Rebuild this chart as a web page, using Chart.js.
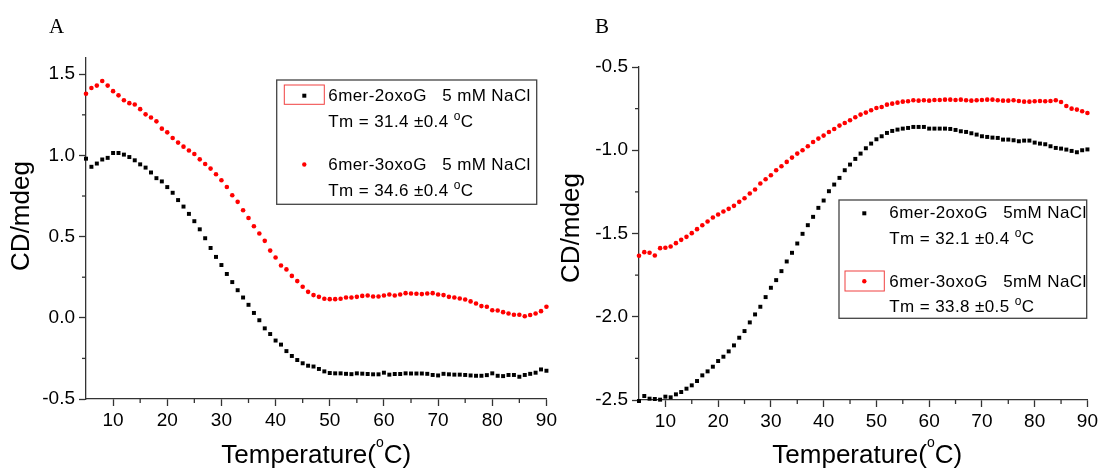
<!DOCTYPE html>
<html>
<head>
<meta charset="utf-8">
<script src="https://cdn.jsdelivr.net/npm/chart.js@4.4.1/dist/chart.umd.min.js"></script>
<style>
  html, body { margin: 0; padding: 0; background: #fff; }
  body { width: 1101px; height: 468px; position: relative; overflow: hidden; }
  .panel { position: absolute; top: 0; height: 468px; }
  #panelA { left: 0; width: 560px; }
  #panelB { left: 550px; width: 551px; }
</style>
</head>
<body>
<div class="panel" id="panelA"><canvas id="chartA"></canvas></div>
<div class="panel" id="panelB"><canvas id="chartB"></canvas></div>
<script>
// temperatures (deg C), one reading per degree
const temps = [5,6,7,8,9,10,11,12,13,14,15,16,17,18,19,20,21,22,23,24,25,26,27,28,29,30,
  31,32,33,34,35,36,37,38,39,40,41,42,43,44,45,46,47,48,49,50,51,52,53,54,55,56,57,58,59,60,
  61,62,63,64,65,66,67,68,69,70,71,72,73,74,75,76,77,78,79,80,81,82,83,84,85,86,87,88,89,90];

// panel A: 5 mM NaCl
const blackA = [0.98,0.93,0.95,0.975,0.985,1.015,1.015,1.005,0.99,0.97,
  0.945,0.925,0.895,0.86,0.84,0.805,0.77,0.725,0.685,0.64,
  0.595,0.545,0.49,0.43,0.375,0.325,0.27,0.22,0.17,0.125,
  0.08,0.03,-0.015,-0.065,-0.10,-0.14,-0.165,-0.205,-0.235,-0.26,
  -0.28,-0.295,-0.30,-0.315,-0.33,-0.34,-0.342,-0.342,-0.345,-0.347,
  -0.342,-0.344,-0.346,-0.348,-0.348,-0.338,-0.35,-0.346,-0.346,-0.342,
  -0.343,-0.343,-0.343,-0.345,-0.352,-0.355,-0.345,-0.348,-0.35,-0.35,
  -0.352,-0.355,-0.357,-0.357,-0.353,-0.342,-0.357,-0.359,-0.352,-0.352,
  -0.363,-0.352,-0.345,-0.338,-0.318,-0.326];
const redA = [1.38,1.415,1.43,1.458,1.43,1.396,1.37,1.34,1.322,1.314,
  1.285,1.253,1.234,1.21,1.165,1.142,1.107,1.079,1.054,1.03,
  1.009,0.976,0.947,0.919,0.884,0.847,0.806,0.755,0.714,0.662,
  0.615,0.564,0.519,0.474,0.414,0.371,0.322,0.298,0.258,0.226,
  0.191,0.16,0.14,0.129,0.117,0.115,0.115,0.117,0.125,0.125,
  0.129,0.135,0.137,0.131,0.131,0.137,0.144,0.137,0.144,0.152,
  0.15,0.148,0.146,0.15,0.152,0.144,0.14,0.129,0.125,0.119,
  0.113,0.101,0.088,0.072,0.068,0.047,0.045,0.035,0.027,0.019,
  0.019,0.010,0.017,0.027,0.041,0.068];

// panel B: 5mM NaCl
const blackB = [-2.506,-2.476,-2.492,-2.494,-2.498,-2.48,-2.484,-2.466,-2.452,-2.432,
  -2.412,-2.386,-2.352,-2.328,-2.3,-2.266,-2.24,-2.208,-2.172,-2.126,
  -2.086,-2.034,-1.986,-1.94,-1.882,-1.826,-1.78,-1.726,-1.668,-1.616,
  -1.56,-1.502,-1.45,-1.4,-1.346,-1.302,-1.246,-1.206,-1.166,-1.12,
  -1.086,-1.052,-1.02,-0.988,-0.96,-0.934,-0.916,-0.896,-0.884,-0.876,
  -0.87,-0.866,-0.86,-0.86,-0.86,-0.87,-0.87,-0.87,-0.87,-0.872,
  -0.878,-0.886,-0.89,-0.898,-0.906,-0.916,-0.92,-0.924,-0.926,-0.936,
  -0.936,-0.94,-0.946,-0.942,-0.942,-0.954,-0.96,-0.964,-0.976,-0.986,
  -0.99,-0.996,-1.004,-1.012,-1.0,-0.995];
const redB = [-1.634,-1.612,-1.616,-1.632,-1.588,-1.586,-1.578,-1.558,-1.538,-1.52,
  -1.498,-1.474,-1.45,-1.428,-1.404,-1.386,-1.368,-1.352,-1.334,-1.31,
  -1.288,-1.26,-1.236,-1.2,-1.174,-1.15,-1.12,-1.096,-1.07,-1.044,
  -1.02,-1.0,-0.976,-0.95,-0.93,-0.912,-0.89,-0.872,-0.852,-0.836,
  -0.82,-0.802,-0.786,-0.774,-0.76,-0.746,-0.74,-0.726,-0.72,-0.714,
  -0.708,-0.706,-0.7,-0.702,-0.7,-0.702,-0.698,-0.698,-0.696,-0.696,
  -0.698,-0.696,-0.7,-0.702,-0.7,-0.698,-0.696,-0.696,-0.7,-0.702,
  -0.702,-0.7,-0.704,-0.708,-0.708,-0.706,-0.704,-0.706,-0.704,-0.7,
  -0.71,-0.734,-0.75,-0.756,-0.766,-0.776];

// ticks
const xTicks = [10,20,30,40,50,60,70,80,90];
const xMinor = [15,25,35,45,55,65,75,85];
const yTicksA = [-0.5,0,0.5,1,1.5];
const yMinorA = [-0.25,0.25,0.75,1.25];
const yTicksB = [-2.5,-2,-1.5,-1,-0.5];
const yMinorB = [-2.25,-1.75,-1.25,-0.75];

// legend text
const namesA = ["6mer-2oxoG   5 mM NaCl", "6mer-3oxoG   5 mM NaCl"];
const tmA = ["31.4", "34.6"];
const errA = ["0.4", "0.4"];
const namesB = ["6mer-2oxoG   5mM NaCl", "6mer-3oxoG   5mM NaCl"];
const tmB = ["32.1", "33.8"];
const errB = ["0.4", "0.5"];

const FONT = '"Liberation Sans", Arial, sans-serif';
const AXIS = '#333';

function pts(ys) {
  return temps.map((t, i) => ({ x: t, y: ys[i] }));
}

function drawSup(ctx, pre, sup, post, x, y, size, supSize, raise, center) {
  ctx.textAlign = 'left';
  ctx.textBaseline = 'alphabetic';
  ctx.font = size + 'px ' + FONT;
  const w1 = ctx.measureText(pre).width;
  const w3 = ctx.measureText(post).width;
  ctx.font = supSize + 'px ' + FONT;
  const w2 = ctx.measureText(sup).width;
  const x0 = center ? x - (w1 + w2 + w3) / 2 : x;
  ctx.font = size + 'px ' + FONT;
  ctx.fillText(pre, x0, y);
  ctx.font = supSize + 'px ' + FONT;
  ctx.fillText(sup, x0 + w1, y - raise);
  ctx.font = size + 'px ' + FONT;
  ctx.fillText(post, x0 + w1 + w2, y);
}

// minor ticks, titles, panel letter and the boxed legend
const decoPlugin = {
  id: 'deco',
  afterDraw(chart, args, o) {
    const ctx = chart.ctx;
    const sx = chart.scales.x, sy = chart.scales.y;
    ctx.save();
    ctx.strokeStyle = AXIS;
    ctx.lineWidth = 1.3;
    o.minorX.forEach(v => {
      const px = sx.getPixelForValue(v);
      ctx.beginPath(); ctx.moveTo(px, sx.top); ctx.lineTo(px, sx.top + 4); ctx.stroke();
    });
    o.minorY.forEach(v => {
      const py = sy.getPixelForValue(v);
      ctx.beginPath(); ctx.moveTo(sy.right, py); ctx.lineTo(sy.right - 4, py); ctx.stroke();
    });

    ctx.fillStyle = '#000';
    ctx.font = '21px "Liberation Serif", "Times New Roman", serif';
    ctx.textAlign = 'left';
    ctx.textBaseline = 'alphabetic';
    ctx.fillText(o.letter, o.letterX, 33);

    ctx.save();
    ctx.font = '26px ' + FONT;
    ctx.translate(o.yTitle[0], o.yTitle[1]);
    ctx.rotate(-Math.PI / 2);
    ctx.textAlign = 'center';
    ctx.textBaseline = 'middle';
    ctx.fillText('CD/mdeg', 0, 0);
    ctx.restore();

    const cx = (chart.chartArea.left + chart.chartArea.right) / 2 + o.xTitleShift;
    drawSup(ctx, 'Temperature(', 'o', 'C)', cx, 463, 26, 14, 16, true);

    // legend
    const L = o.legend;
    ctx.fillStyle = '#fff';
    ctx.fillRect(L.box[0], L.box[1], L.box[2], L.box[3]);
    ctx.strokeStyle = '#444';
    ctx.lineWidth = 1.3;
    ctx.strokeRect(L.box[0], L.box[1], L.box[2], L.box[3]);
    ctx.strokeStyle = '#f04040';
    ctx.lineWidth = 1;
    ctx.strokeRect(L.hi[0], L.hi[1], L.hi[2], L.hi[3]);
    L.rows.forEach((r, i) => {
      ctx.fillStyle = r.color;
      if (r.style === 'rect') {
        ctx.fillRect(L.mx - 2, r.base - 7, 4, 4);
      } else {
        ctx.beginPath(); ctx.arc(L.mx, r.base - 5.5, 2.2, 0, Math.PI * 2); ctx.fill();
      }
      ctx.fillStyle = '#000';
      ctx.letterSpacing = '0.4px';
      ctx.font = '17px ' + FONT;
      ctx.textAlign = 'left';
      ctx.fillText(L.names[i], L.tx, r.base);
      drawSup(ctx, 'Tm = ' + L.tm[i] + ' \u00B1' + L.err[i] + ' ', 'o', 'C', L.tx, r.base + L.gap, 17, 12, 7, false);
      ctx.letterSpacing = '0px';
    });
    ctx.restore();
  }
};

function makeChart(id, black, red, yMin, yMax, yTicks, yMinor, sizes, decoOpts) {
  return new Chart(document.getElementById(id), {
    type: 'scatter',
    data: {
      datasets: [
        { data: pts(black), pointStyle: 'rect', pointRadius: 2.8, pointBackgroundColor: '#000',
          pointBorderWidth: 0, showLine: false, clip: false },
        { data: pts(red), pointStyle: 'circle', pointRadius: 2.3, pointBackgroundColor: '#ff0000',
          pointBorderWidth: 0, showLine: false, clip: false }
      ]
    },
    options: {
      responsive: true,
      maintainAspectRatio: false,
      animation: false,
      events: [],
      layout: { padding: { left: 0, top: sizes.top, right: sizes.right, bottom: 0 } },
      plugins: { legend: { display: false }, tooltip: { enabled: false }, deco: decoOpts },
      scales: {
        x: {
          type: 'linear', min: 5, max: 90,
          afterBuildTicks: s => { s.ticks = xTicks.map(v => ({ value: v })); },
          afterFit: s => { s.height = sizes.xh; },
          grid: { drawOnChartArea: false, tickLength: 7, color: AXIS, tickWidth: 1.3 },
          border: { color: AXIS, width: 1.3 },
          ticks: { font: { family: FONT, size: 19 }, color: '#000', padding: 3,
                   maxRotation: 0, autoSkip: false, callback: v => v }
        },
        y: {
          type: 'linear', min: yMin, max: yMax,
          afterBuildTicks: s => { s.ticks = yTicks.map(v => ({ value: v })); },
          afterFit: s => { s.width = sizes.yw; },
          grid: { drawOnChartArea: false, tickLength: 7, color: AXIS, tickWidth: 1.3 },
          border: { color: AXIS, width: 1.3 },
          ticks: { font: { family: FONT, size: 19 }, color: '#000', padding: 4,
                   autoSkip: false, callback: v => Number(v).toFixed(1) }
        }
      }
    },
    plugins: [decoPlugin]
  });
}

makeChart('chartA', blackA, redA, -0.5, 1.6, yTicksA, yMinorA,
  { top: 58, right: 13, xh: 69, yw: 86 },
  {
    minorX: xMinor, minorY: yMinorA, letter: 'A', letterX: 49, yTitle: [22, 216], xTitleShift: 0,
    legend: {
      box: [276.7, 80, 260, 124.3], hi: [284.3, 85, 40, 19.3], mx: 304.3, tx: 328.3, gap: 26,
      names: namesA, tm: tmA, err: errA,
      rows: [ { style: 'rect', color: '#000', base: 100.7 }, { style: 'circle', color: '#ff0000', base: 170 } ]
    }
  });

makeChart('chartB', blackB, redB, -2.5, -0.5, yTicksB, yMinorB,
  { top: 67, right: 10.3, xh: 68, yw: 89 },
  {
    minorX: xMinor, minorY: yMinorB, letter: 'B', letterX: 45, yTitle: [22, 228], xTitleShift: 4,
    legend: {
      box: [289, 200, 247.7, 118.3], hi: [295, 271, 39.3, 20], mx: 314.3, tx: 339.3, gap: 25.5,
      names: namesB, tm: tmB, err: errB,
      rows: [ { style: 'rect', color: '#000', base: 218.3 }, { style: 'circle', color: '#ff0000', base: 286.7 } ]
    }
  });
</script>
</body>
</html>
